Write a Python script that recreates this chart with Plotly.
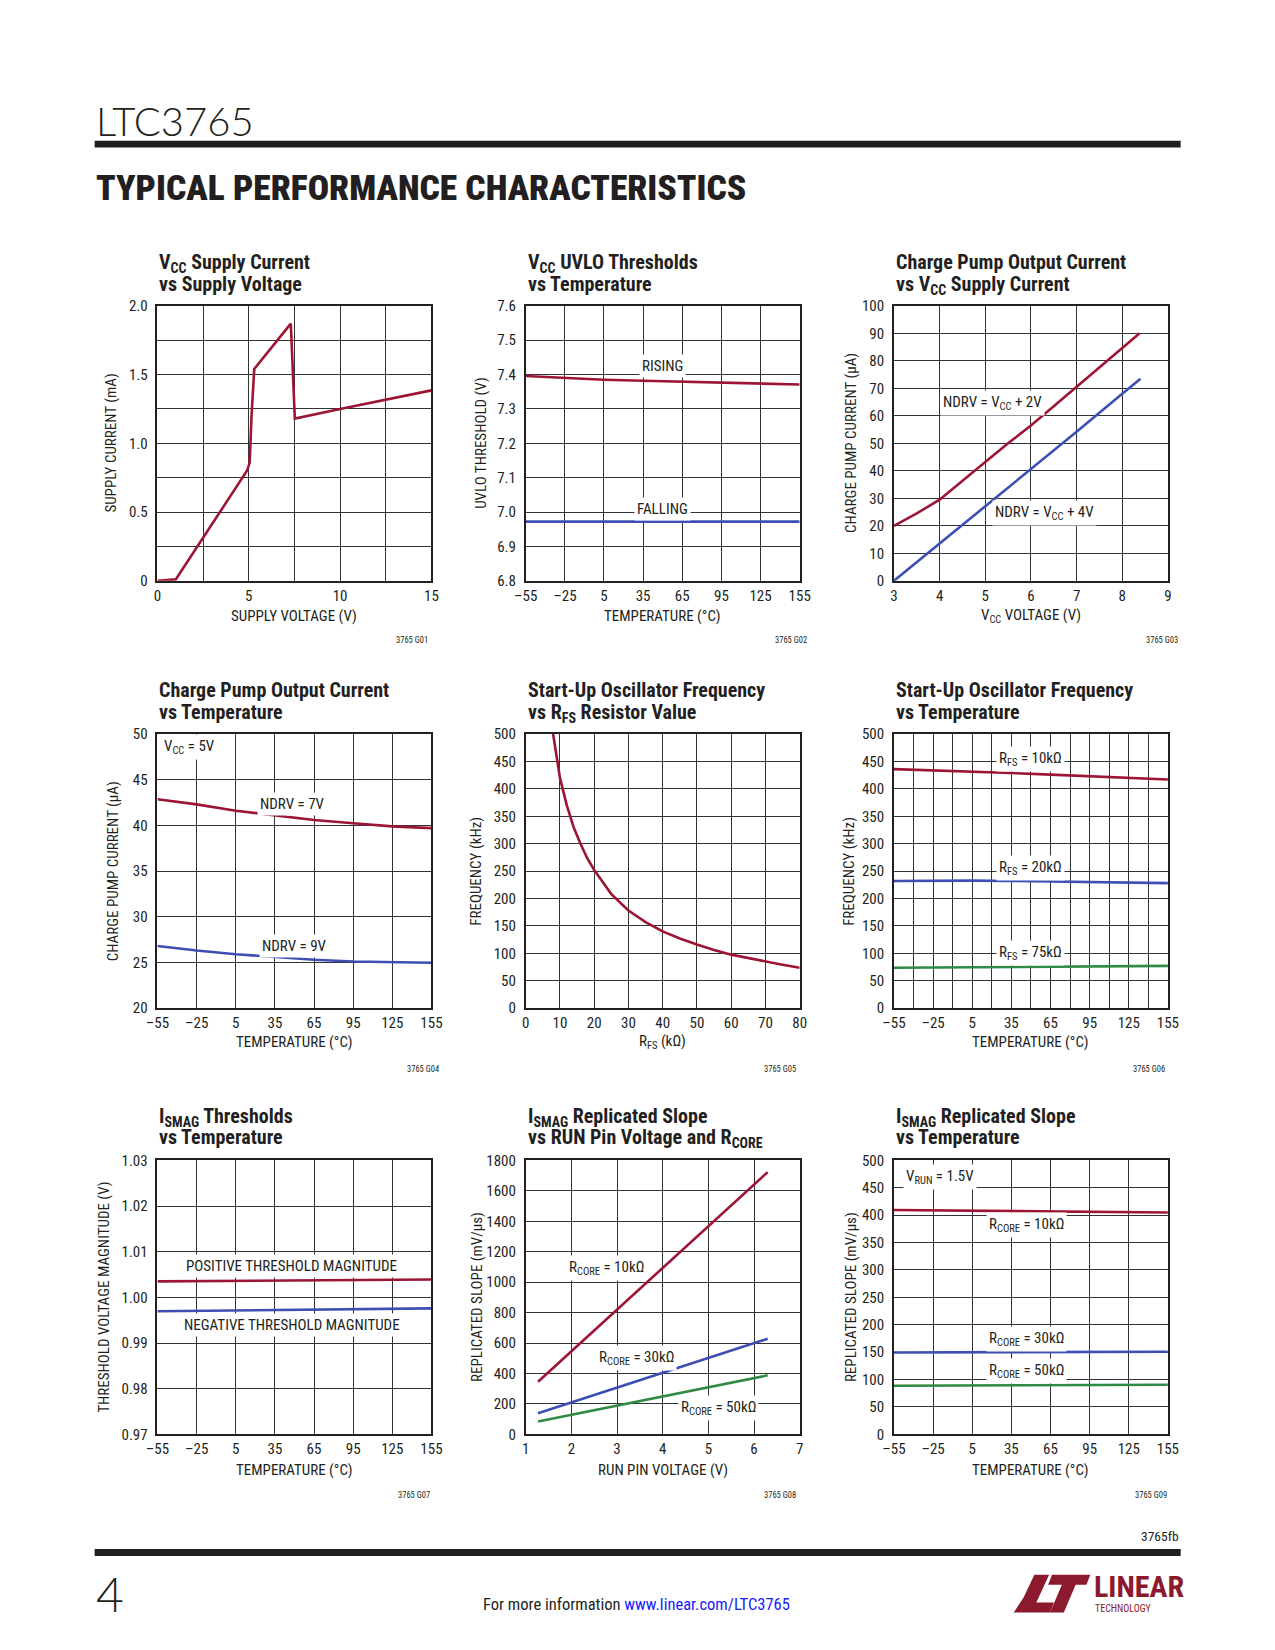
import plotly.graph_objects as go

W, H = 1275, 1650
RED = "#9d1535"
BLUE = "#3d4fb3"
GREEN = "#2f8a45"
INK = "#231f20"
LOGO = "#8c1a2e"
FONT = "Liberation Sans Narrow, Roboto Condensed, DejaVu Sans Condensed, Arial Narrow, Liberation Sans, sans-serif"

# ---------------- data ----------------
# G01 supply current vs supply voltage
g01_v = [0, 1.0, 4.9, 5.05, 5.15, 5.3, 7.3, 7.52, 10, 15]
g01_i = [0, 0.01, 0.80, 0.86, 1.2, 1.54, 1.87, 1.18, 1.25, 1.385]

# G02 UVLO thresholds vs temperature
temp = [-55, -25, 5, 35, 65, 95, 125, 155]
g02_rising = [7.396, 7.390, 7.385, 7.382, 7.379, 7.376, 7.373, 7.371]
g02_falling = [6.972, 6.972, 6.972, 6.972, 6.972, 6.972, 6.972, 6.972]

# G03 charge pump current vs VCC
g03_v2 = [3, 3.5, 4, 4.5, 5, 5.5, 6, 6.5, 7, 7.5, 8, 8.38]
g03_i2 = [20, 24.5, 29.5, 36.2, 43.2, 50, 56.5, 63.5, 70.5, 77.5, 84.5, 90]
g03_v4 = [3, 4, 5, 6, 7, 8, 8.4]
g03_i4 = [0, 13.5, 27, 40.5, 54.2, 68, 73.5]

# G04 charge pump current vs temperature
g04_ndrv7 = [42.86, 42.3, 41.6, 41.07, 40.6, 40.23, 39.9, 39.7]
g04_ndrv9 = [26.8, 26.3, 25.9, 25.58, 25.29, 25.1, 25.0, 24.96]

# G05 start-up oscillator frequency vs RFS
g05_rfs = [8, 10, 12, 14, 16, 18, 20, 25, 30, 35, 40, 45, 50, 55, 60, 65, 70, 75, 80]
g05_f = [500, 420, 370, 330, 300, 273, 252, 208, 178, 157, 140, 127, 116, 106, 97.5, 91, 85.5, 79, 73.5]

# G06 start-up oscillator frequency vs temperature
g06_10k = [436, 434, 431.5, 429, 426, 423, 419.5, 417]
g06_20k = [232, 232.5, 232.5, 232, 231, 230, 229, 228]
g06_75k = [73.5, 74, 74.5, 75, 75.5, 76, 76.5, 77]

# G07 ISMAG thresholds vs temperature
g07_temp = [-55, 155]
g07_pos = [1.0035, 1.0039]
g07_neg = [0.99695, 0.9976]

# G08 replicated slope vs RUN pin voltage
g08_run = [1.27, 2, 3, 4, 5, 6, 6.3]
g08_10k = [346, 545, 820, 1093, 1367, 1641, 1723]
g08_30k = [139, 210, 307, 404, 501, 598, 628]
g08_50k = [84, 128, 188, 249, 309, 370, 388]

# G09 replicated slope vs temperature
g09_temp = [-55, 155]
g09_10k = [409.5, 405]
g09_30k = [149.5, 150.7]
g09_50k = [88.7, 90.5]

# tick labels
temp_ticks = [-55, -25, 5, 35, 65, 95, 125, 155]
temp_labels = ["\u201355", "\u201325", "5", "35", "65", "95", "125", "155"]

# ---------------- layout helpers ----------------
cols = [(140, 419), (515, 794), (890, 1169)]
rows = [(292, 570), (725, 1002), (1156, 1433)]
title_line1 = [246.5, 679.5, 1109.5]
title_line2 = [268.5, 701.5, 1131.5]
xtitle_y = [606, 1036, 1469]
code_y = [630, 1064, 1494]


def px(x):
    return x / W


def py(y):
    return 1 - y / H


def frange(a, b, s):
    out = []
    v = a
    while v <= b + 1e-9:
        out.append(round(v, 6))
        v += s
    return out


panels = [
    dict(title=("V<sub>CC</sub> Supply Current", "vs Supply Voltage"),
         xr=[0, 15], yr=[0, 2.0],
         xt=frange(0, 15, 2.5), xl=["0", "", "5", "", "10", "", "15"],
         yt=frange(0, 2, 0.25), yl=["0", "", "0.5", "", "1.0", "", "1.5", "", "2.0"],
         xtitle="SUPPLY VOLTAGE (V)", ytitle="SUPPLY CURRENT (mA)", ytoff=-47,
         code="3765 G01", codeoff=-1,
         traces=[(g01_v, g01_i, RED)],
         labels=[]),
    dict(title=("V<sub>CC</sub> UVLO Thresholds", "vs Temperature"),
         xr=[-55, 155], yr=[6.8, 7.6],
         xt=temp_ticks, xl=temp_labels,
         yt=frange(6.8, 7.6, 0.1), yl=["6.8", "6.9", "7.0", "7.1", "7.2", "7.3", "7.4", "7.5", "7.6"],
         xtitle="TEMPERATURE (\u00b0C)", ytitle="UVLO THRESHOLD (V)", ytoff=-45,
         code="3765 G02", codeoff=10,
         traces=[(temp, g02_rising, RED), (temp, g02_falling, BLUE)],
         labels=[(50, 7.426, "RISING", "center"), (50, 7.008, "FALLING", "center")]),
    dict(title=("Charge Pump Output Current", "vs V<sub>CC</sub> Supply Current"),
         xr=[3, 9], yr=[0, 100],
         xt=frange(3, 9, 1), xl=["3", "4", "5", "6", "7", "8", "9"],
         yt=frange(0, 100, 10), yl=[str(v) for v in range(0, 101, 10)],
         xtitle="V<sub>CC</sub> VOLTAGE (V)", ytitle="CHARGE PUMP CURRENT (\u00b5A)", ytoff=-43,
         code="3765 G03", codeoff=12,
         traces=[(g03_v2, g03_i2, RED), (g03_v4, g03_i4, BLUE)],
         labels=[(5.15, 64.6, "NDRV = V<sub>CC</sub> + 2V", "center"),
                 (6.3, 24.5, "NDRV = V<sub>CC</sub> + 4V", "center")]),
    dict(title=("Charge Pump Output Current", "vs Temperature"),
         xr=[-55, 155], yr=[20, 50],
         xt=temp_ticks, xl=temp_labels,
         yt=frange(20, 50, 5), yl=["20", "25", "30", "35", "40", "45", "50"],
         xtitle="TEMPERATURE (\u00b0C)", ytitle="CHARGE PUMP CURRENT (\u00b5A)", ytoff=-45,
         code="3765 G04", codeoff=10,
         traces=[(temp, g04_ndrv7, RED), (temp, g04_ndrv9, BLUE)],
         labels=[(-52, 48.6, "V<sub>CC</sub> = 5V", "left"),
                 (48.6, 42.4, "NDRV = 7V", "center"),
                 (50.4, 26.8, "NDRV = 9V", "center")]),
    dict(title=("Start-Up Oscillator Frequency", "vs R<sub>FS</sub> Resistor Value"),
         xr=[0, 80], yr=[0, 500],
         xt=frange(0, 80, 10), xl=[str(v) for v in range(0, 81, 10)],
         yt=frange(0, 500, 50), yl=[str(v) for v in range(0, 501, 50)],
         xtitle="R<sub>FS</sub> (k\u03a9)", ytitle="FREQUENCY (kHz)", ytoff=-51,
         code="3765 G05", codeoff=-2,
         traces=[(g05_rfs, g05_f, RED)],
         labels=[]),
    dict(title=("Start-Up Oscillator Frequency", "vs Temperature"),
         xr=[-55, 155], yr=[0, 500],
         xt=frange(-55, 155, 15),
         xl=["\u201355", "", "\u201325", "", "5", "", "35", "", "65", "", "95", "", "125", "", "155"],
         yt=frange(0, 500, 50), yl=[str(v) for v in range(0, 501, 50)],
         xtitle="TEMPERATURE (\u00b0C)", ytitle="FREQUENCY (kHz)", ytoff=-46,
         code="3765 G06", codeoff=-1,
         traces=[(temp, g06_10k, RED), (temp, g06_20k, BLUE), (temp, g06_75k, GREEN)],
         labels=[(50, 454, "R<sub>FS</sub> = 10k\u03a9", "center"),
                 (50, 255, "R<sub>FS</sub> = 20k\u03a9", "center"),
                 (50, 100, "R<sub>FS</sub> = 75k\u03a9", "center")]),
    dict(title=("I<sub>SMAG</sub> Thresholds", "vs Temperature"),
         xr=[-55, 155], yr=[0.97, 1.03],
         xt=temp_ticks, xl=temp_labels,
         yt=frange(0.97, 1.03, 0.01), yl=["0.97", "0.98", "0.99", "1.00", "1.01", "1.02", "1.03"],
         xtitle="TEMPERATURE (\u00b0C)", ytitle="THRESHOLD VOLTAGE MAGNITUDE (V)", ytoff=-54,
         code="3765 G07", codeoff=1,
         traces=[(g07_temp, g07_pos, RED), (g07_temp, g07_neg, BLUE)],
         labels=[(48, 1.0069, "POSITIVE THRESHOLD MAGNITUDE", "center"),
                 (48, 0.99404, "NEGATIVE THRESHOLD MAGNITUDE", "center")]),
    dict(title=("I<sub>SMAG</sub> Replicated Slope", "vs RUN Pin Voltage and R<sub>CORE</sub>"),
         xr=[1, 7], yr=[0, 1800],
         xt=frange(1, 7, 1), xl=["1", "2", "3", "4", "5", "6", "7"],
         yt=frange(0, 1800, 200), yl=[str(v) for v in range(0, 1801, 200)],
         xtitle="RUN PIN VOLTAGE (V)", ytitle="REPLICATED SLOPE (mV/\u00b5s)", ytoff=-49,
         code="3765 G08", codeoff=-2,
         traces=[(g08_run, g08_10k, RED), (g08_run, g08_30k, BLUE), (g08_run, g08_50k, GREEN)],
         labels=[(2.78, 1094, "R<sub>CORE</sub> = 10k\u03a9", "center"),
                 (3.42, 504, "R<sub>CORE</sub> = 30k\u03a9", "center"),
                 (5.22, 170, "R<sub>CORE</sub> = 50k\u03a9", "center")]),
    dict(title=("I<sub>SMAG</sub> Replicated Slope", "vs Temperature"),
         xr=[-55, 155], yr=[0, 500],
         xt=temp_ticks, xl=temp_labels,
         yt=frange(0, 500, 50), yl=[str(v) for v in range(0, 501, 50)],
         xtitle="TEMPERATURE (\u00b0C)", ytitle="REPLICATED SLOPE (mV/\u00b5s)", ytoff=-43,
         code="3765 G09", codeoff=1,
         traces=[(g09_temp, g09_10k, RED), (g09_temp, g09_30k, BLUE), (g09_temp, g09_50k, GREEN)],
         labels=[(-48, 470, "V<sub>RUN</sub> = 1.5V", "left"),
                 (46.7, 382, "R<sub>CORE</sub> = 10k\u03a9", "center"),
                 (46.7, 174, "R<sub>CORE</sub> = 30k\u03a9", "center"),
                 (46.7, 115, "R<sub>CORE</sub> = 50k\u03a9", "center")]),
]

fig = go.Figure()
annotations = []
layout_axes = {}

for i, p in enumerate(panels):
    r, c = divmod(i, 3)
    n = i + 1
    xa = "x" if n == 1 else f"x{n}"
    ya = "y" if n == 1 else f"y{n}"
    x0, x1 = cols[c]
    y0, y1 = rows[r]
    axis_common = dict(
        showgrid=True, gridcolor="#333333", gridwidth=1,
        showline=True, mirror=True, linecolor=INK, linewidth=1.6,
        zeroline=False, ticks="", fixedrange=True,
        tickfont=dict(family=FONT, size=15, color=INK),
        tickmode="array",
    )
    layout_axes["xaxis" if n == 1 else f"xaxis{n}"] = dict(
        axis_common, domain=[px(x0), px(x1)], range=p["xr"], anchor=ya,
        tickvals=p["xt"], ticktext=p["xl"], ticklabelstandoff=0,
    )
    layout_axes["yaxis" if n == 1 else f"yaxis{n}"] = dict(
        axis_common, domain=[py(y1), py(y0)], range=p["yr"], anchor=xa,
        tickvals=p["yt"], ticktext=p["yl"], ticklabelstandoff=5,
    )
    for xs, ys, col in p["traces"]:
        fig.add_trace(go.Scatter(x=xs, y=ys, mode="lines", xaxis=xa, yaxis=ya,
                                 line=dict(color=col, width=2.6), showlegend=False,
                                 hoverinfo="skip"))
    for lx, ly, txt, al in p["labels"]:
        annotations.append(dict(
            x=lx, y=ly, xref=xa, yref=ya, text=txt, showarrow=False,
            xanchor=al, yanchor="middle", bgcolor="white", borderpad=2,
            font=dict(family=FONT, size=15, color=INK)))
    # chart title, two separate lines (tight leading as in the reference)
    for txt, cy in zip(p["title"], (title_line1[r], title_line2[r])):
        annotations.append(dict(
            x=px(x0), y=py(cy - 13), xref="paper", yref="paper", text=txt,
            showarrow=False, xanchor="left", yanchor="top", align="left",
            font=dict(family=FONT, size=20, color=INK, weight=700)))
    # x axis title
    annotations.append(dict(
        x=px((x0 + x1) / 2), y=py(xtitle_y[r]), xref="paper", yref="paper", text=p["xtitle"],
        showarrow=False, xanchor="center", yanchor="middle",
        font=dict(family=FONT, size=15, color=INK)))
    # y axis title
    annotations.append(dict(
        x=px(x0 + p["ytoff"]), y=py((y0 + y1) / 2), xref="paper", yref="paper", text=p["ytitle"],
        showarrow=False, xanchor="center", yanchor="middle", textangle=-90,
        font=dict(family=FONT, size=15, color=INK)))
    # figure code
    annotations.append(dict(
        x=px(x1 + p["codeoff"]), y=py(code_y[r]), xref="paper", yref="paper", text=p["code"],
        showarrow=False, xanchor="right", yanchor="middle",
        font=dict(family=FONT, size=8.5, color=INK)))

# ---------------- page header / footer ----------------
annotations += [
    dict(x=px(75), y=py(105), xref="paper", yref="paper", text="LTC3765", showarrow=False,
         xanchor="left", yanchor="middle",
         font=dict(family="Lato, Liberation Sans, sans-serif", size=40, color=INK, weight=300)),
    dict(x=px(75), y=py(173), xref="paper", yref="paper", text="TYPICAL PERFORMANCE CHARACTERISTICS",
         showarrow=False, xanchor="left", yanchor="middle",
         font=dict(family=FONT, size=35.5, color=INK, weight=900)),
    dict(x=px(1182), y=py(1536), xref="paper", yref="paper", text="3765fb", showarrow=False,
         xanchor="right", yanchor="middle", font=dict(family=FONT, size=13.5, color=INK)),
    dict(x=px(75), y=py(1594), xref="paper", yref="paper", text="4", showarrow=False,
         xanchor="left", yanchor="middle",
         font=dict(family="Lato, Liberation Sans, sans-serif", size=48, color=INK, weight=300)),
    dict(x=px(628), y=py(1605), xref="paper", yref="paper",
         text="For more information <span style='color:#1a1aff'>www.linear.com/LTC3765</span>",
         showarrow=False, xanchor="center", yanchor="middle",
         font=dict(family=FONT, size=16.5, color=INK)),
    dict(x=px(1092), y=py(1587), xref="paper", yref="paper", text="LINEAR", showarrow=False,
         xanchor="left", yanchor="middle", font=dict(family=FONT, size=30, color=LOGO, weight=700)),
    dict(x=px(1093), y=py(1609), xref="paper", yref="paper", text="TECHNOLOGY", showarrow=False,
         xanchor="left", yanchor="middle", font=dict(family=FONT, size=10, color=LOGO)),
]


def path(points):
    return "M " + " L ".join(f"{px(x):.5f},{py(y):.5f}" for x, y in points) + " Z"


shapes = [
    dict(type="rect", xref="paper", yref="paper", x0=px(76), x1=px(1182), y0=py(132), y1=py(125),
         fillcolor=INK, line=dict(width=0)),
    dict(type="rect", xref="paper", yref="paper", x0=px(76), x1=px(1182), y0=py(1556), y1=py(1549),
         fillcolor=INK, line=dict(width=0)),
    dict(type="path", xref="paper", yref="paper",
         path=path([(1033, 1575), (1048, 1575), (1035, 1603), (1053, 1603), (1049, 1613),
                    (1012, 1613), (1022, 1598)]),
         fillcolor=LOGO, line=dict(width=0)),
    dict(type="path", xref="paper", yref="paper",
         path=path([(1051, 1575), (1090, 1575), (1086, 1585), (1075, 1585), (1063, 1613),
                    (1049, 1613), (1061, 1585), (1047, 1585)]),
         fillcolor=LOGO, line=dict(width=0)),
]

fig.update_layout(
    width=W, height=H, margin=dict(l=0, r=0, t=0, b=0),
    paper_bgcolor="white", plot_bgcolor="white",
    showlegend=False, annotations=annotations, shapes=shapes,
    **layout_axes,
)

fig.write_html("out.html")
